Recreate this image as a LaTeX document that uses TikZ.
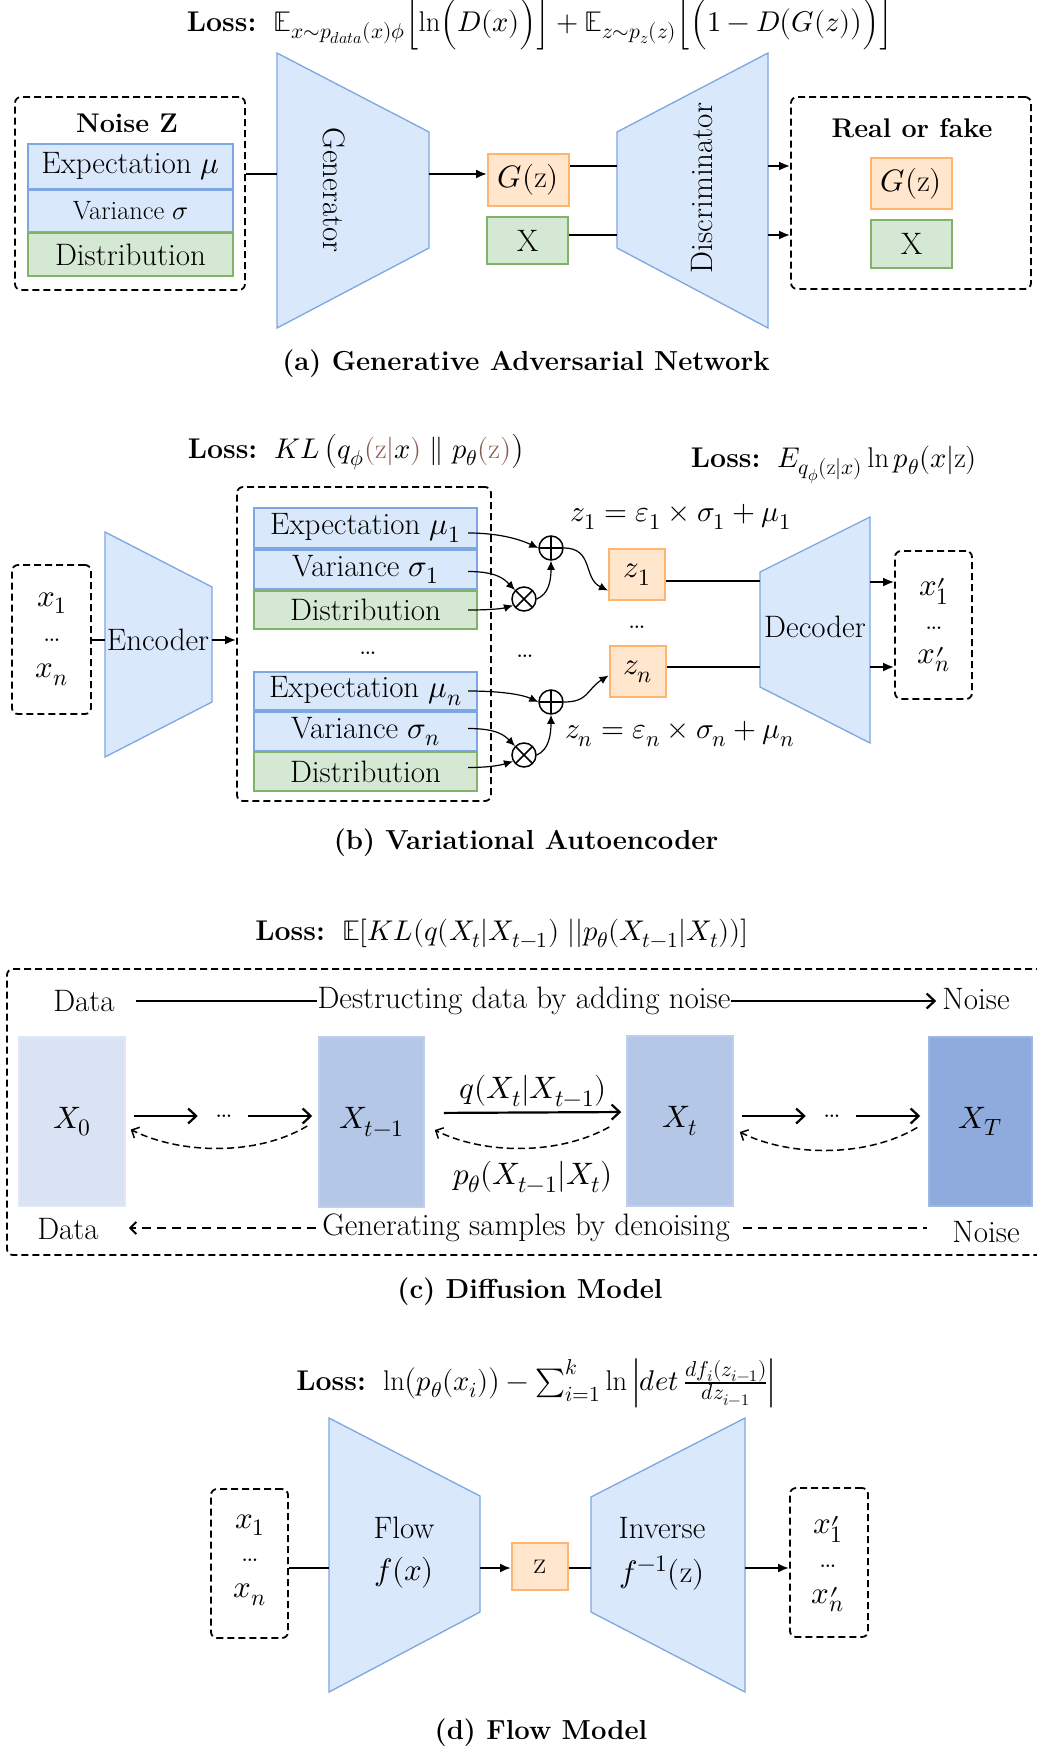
\documentclass[tikz,border=0pt]{standalone}
\usepackage{fontspec}
\usepackage{unicode-math}
\setmathfont{Latin Modern Math}
\usetikzlibrary{arrows.meta,calc}
\DeclareMathSizes{31}{31}{23.5}{17}
\DeclareMathSizes{29.5}{29.5}{22.5}{16.5}
\DeclareMathSizes{28.5}{28.5}{21.5}{16}
\DeclareMathSizes{27}{27}{20.5}{15}
% prime set close to the letter, stacked over the index
\newcommand{\pmark}{\smash{\raisebox{-1.3ex}{$\prime$}}}

\definecolor{bfill}{HTML}{DAE8FC}
\definecolor{bstroke}{HTML}{7EA6E0}
\definecolor{gfill}{HTML}{D5E8D4}
\definecolor{gstroke}{HTML}{82B366}
\definecolor{ofill}{HTML}{FFE6CC}
\definecolor{ostroke}{HTML}{FFB570}
\definecolor{dA}{HTML}{DAE3F3}
\definecolor{dB}{HTML}{B4C7E7}
\definecolor{dC}{HTML}{8FAADC}
\definecolor{brn}{HTML}{8B5A4F}

\tikzset{
  grp/.style={draw, line width=1.8pt, dash pattern=on 7pt off 4pt, rounded corners=6pt},
  bbox/.style={draw=bstroke, fill=bfill, line width=2pt},
  gbox/.style={draw=gstroke, fill=gfill, line width=2pt},
  obox/.style={draw=ostroke, fill=ofill, line width=2pt},
  trap/.style={draw=bstroke, fill=bfill, line width=1.3pt},
  drect/.style={fill=#1, draw=#1!85!white, line width=1.5pt},
  losstxt/.style={font=\fontsize{28.5}{34}\selectfont},
  captxt/.style={font=\bfseries\fontsize{27.5}{33}\selectfont},
  headtxt/.style={font=\bfseries\fontsize{27}{32}\selectfont},
  formtxt/.style={font=\fontsize{29.5}{35}\selectfont},
  conn/.style={line width=2pt},
  arr/.style={conn, -{Latex[length=11pt,width=9pt]}},
  tarr/.style={line width=1.2pt, -{Latex[length=9pt,width=8pt]}},
  barb/.style={line width=2.2pt, -{Straight Barb[length=8pt,width=15pt]}},
  dbarb/.style={line width=1.5pt, dash pattern=on 7pt off 4pt, -{Straight Barb[length=6pt,width=12pt]}},
  dline/.style={line width=2pt, dash pattern=on 9pt off 6pt},
  plusc/.style={circle, draw, line width=1.5pt, minimum size=24pt,
    path picture={\draw[line width=1.5pt]
      (path picture bounding box.north) -- (path picture bounding box.south)
      (path picture bounding box.west) -- (path picture bounding box.east);}},
  timesc/.style={circle, draw, line width=1.5pt, minimum size=24pt,
    path picture={\draw[line width=1.5pt]
      (path picture bounding box.north west) -- (path picture bounding box.south east)
      (path picture bounding box.south west) -- (path picture bounding box.north east);}},
}

\begin{document}
\begin{tikzpicture}[x=1pt, y=-1pt, font=\fontsize{31}{37}\selectfont, every node/.style={inner sep=0pt}]
\fill[white] (0,0) rectangle (1036,1747);
\useasboundingbox (0,0) rectangle (1036,1747);

% ---------------- (a) GAN ----------------
\node[losstxt] (lossA) at (540,24) {\textbf{Loss:}\ \ $\mathbb{E}_{x\sim p_{data}(x)\phi}\Bigl[\ln\Bigl(D(x)\Bigr)\Bigr]+\mathbb{E}_{z\sim p_z(z)}\Bigl[\Bigl(1-D\bigl(G(z)\bigr)\Bigr)\Bigr]$};

\node[grp, minimum width=230, minimum height=193] (noise) at (130,193.5) {};
\node[headtxt] (noiseT) at (127,123) {Noise Z};
\node[bbox, minimum width=205, minimum height=45] (expA) at (130.5,166.5) {Expectation $\mu$};
\node[bbox, minimum width=205, minimum height=42, font=\fontsize{26.5}{32}\selectfont] (varA) at (130.5,211) {Variance $\sigma$};
\node[gbox, minimum width=205, minimum height=43] (distA) at (130.5,254.5) {Distribution};

\draw[trap] (277,53) -- (429,132) -- (429,248) -- (277,328) -- cycle;
\node[rotate=-90] (genT) at (334,190) {Generator};
\coordinate (genIn) at (277,174);
\coordinate (genOut) at (429,174);
\draw[conn] (noise.east |- genIn) -- (genIn);

\node[obox, minimum width=81, minimum height=52] (gz) at (528.5,180) {$G(\mathrm{z})$};
\node[gbox, minimum width=81, minimum height=47] (xA) at (527.5,240.5) {X};
\draw[arr] (genOut) -- (gz.west |- genOut);

\draw[trap] (617,132) -- (768,53) -- (768,328) -- (617,248) -- cycle;
\node[rotate=90] (discT) at (702,188) {Discriminator};
\coordinate (discIn1) at (617,166);
\coordinate (discIn2) at (617,235);
\coordinate (discOut1) at (768,166);
\coordinate (discOut2) at (768,235);
\draw[conn] (gz.east |- discIn1) -- (discIn1);
\draw[conn] (xA.east |- discIn2) -- (discIn2);

\node[grp, minimum width=240, minimum height=192] (real) at (911,193) {};
\draw[arr] (discOut1) -- (real.west |- discOut1);
\draw[arr] (discOut2) -- (real.west |- discOut2);
\node[headtxt] (realT) at (912,128) {Real or fake};
\node[obox, minimum width=81, minimum height=51] (gz2) at (911.5,183.5) {$G(\mathrm{z})$};
\node[gbox, minimum width=81, minimum height=48] (x2) at (911.5,244) {X};

\node[captxt] (capA) at (526,364) {(a) Generative Adversarial Network};

% ---------------- (b) VAE ----------------
\node[losstxt] (lossB1) at (356,452) {\textbf{Loss:}\ \ $KL\left(q_\phi\textcolor{brn}{(\mathrm{z}|}x\textcolor{brn}{)}\parallel p_\theta\textcolor{brn}{(\mathrm{z})}\right)$};
\node[losstxt] (lossB2) at (834,465) {\textbf{Loss:}\ \ $E_{q_\phi(\mathrm{z}|x)}\ln p_\theta(x|\mathrm{z})$};

\node[grp, minimum width=79, minimum height=149] (inB) at (51.5,639.5) {};
\node (x1B) at (52,603) {$x_1$};
\node (dotsB) at (52,640) {\dots};
\node (xnB) at (52,675) {$x_n$};

\draw[trap] (105,532) -- (212,587) -- (212,702) -- (105,757) -- cycle;
\coordinate (encIn) at (105,640);
\coordinate (encOut) at (212,640);
\node[grp, minimum width=254, minimum height=314] (mid) at (364,644) {};
\draw[conn] (inB.east |- encIn) -- (encIn);
\draw[arr] (encOut) -- (mid.west |- encOut);
\node (encT) at (158,640) {Encoder};

\node[bbox, minimum width=223, minimum height=40] (e1) at (365.5,528) {Expectation $\mu_1$};
\node[bbox, minimum width=223, minimum height=39] (v1) at (365.5,569.5) {Variance $\sigma_1$};
\node[gbox, minimum width=223, minimum height=38] (d1) at (365.5,610) {Distribution};
\node (dotsM) at (368,653) {\dots};
\node[bbox, minimum width=223, minimum height=38] (en) at (365.5,691) {Expectation $\mu_n$};
\node[bbox, minimum width=223, minimum height=39] (vn) at (365.5,731.5) {Variance $\sigma_n$};
\node[gbox, minimum width=223, minimum height=39] (dn) at (365.5,771.5) {Distribution};

\node[plusc] (p1) at (551,548) {};
\node[timesc] (m1) at (524,599) {};
\node[plusc] (pn) at (551,702) {};
\node[timesc] (mn) at (524,755) {};

\node[obox, minimum width=56, minimum height=51] (z1) at (637,574.5) {$z_1$};
\node[obox, minimum width=56, minimum height=51] (zn) at (637.5,671.5) {$z_n$};
\node (dotsZ) at (637,627) {\dots};
\node (dotsC) at (525,656) {\dots};
\node[formtxt] (f1) at (681,517) {$z_1=\varepsilon_1\times\sigma_1+\mu_1$};
\node[formtxt] (fn) at (680,734) {$z_n=\varepsilon_n\times\sigma_n+\mu_n$};

\draw[tarr] ($(e1.east)+(-10,5)$) .. controls +(35,0) and +(-15,-7) .. (p1.west);
\draw[tarr] ($(v1.east)+(-10,2)$) .. controls +(30,0) and +(-10,-10) .. (m1.north west);
\draw[tarr] ($(d1.east)+(-10,0)$) .. controls +(25,0) and +(-10,3) .. (m1.210);
\draw[tarr] (m1.east) .. controls +(12,-5) and +(0,20) .. (p1.south);
\draw[tarr] (p1.east) .. controls +(30,0) and +(-25,-12) .. ($(z1.west)+(0,16)$);

\draw[tarr] ($(en.east)+(-10,0)$) .. controls +(35,0) and +(-15,-7) .. (pn.west);
\draw[tarr] ($(vn.east)+(-10,-3)$) .. controls +(30,0) and +(-10,-10) .. (mn.north west);
\draw[tarr] ($(dn.east)+(-10,-4)$) .. controls +(25,0) and +(-10,3) .. (mn.210);
\draw[tarr] (mn.east) .. controls +(12,-5) and +(0,20) .. (pn.south);
\draw[tarr] (pn.east) .. controls +(25,0) and +(-22,14) .. ($(zn.west)+(0,4)$);

\draw[trap] (760,572) -- (870,517) -- (870,743) -- (760,687) -- cycle;
\node (decT) at (815,627) {Decoder};
\coordinate (decIn1) at (760,581);
\coordinate (decIn2) at (760,667);
\coordinate (decOut1) at (870,582);
\coordinate (decOut2) at (870,667);
\draw[conn] (z1.east |- decIn1) -- (decIn1);
\draw[conn] (zn.east |- decIn2) -- (decIn2);

\node[grp, minimum width=77, minimum height=148] (outB) at (933.5,625) {};
\draw[arr] (decOut1) -- (outB.west |- decOut1);
\draw[arr] (decOut2) -- (outB.west |- decOut2);
\node (y1B) at (934,593) {$x^{\pmark}_1$};
\node (dotsO) at (934,628) {\dots};
\node (ynB) at (934,661) {$x^{\pmark}_n$};

\node[captxt] (capB) at (526,843) {(b) Variational Autoencoder};

% ---------------- (c) Diffusion ----------------
\node[losstxt] (lossC) at (502,933) {\textbf{Loss:}\ \ $\mathbb{E}[KL(q(X_t|X_{t-1})\;||p_\theta(X_{t-1}|X_t))]$};
\node[grp, minimum width=1053, minimum height=286] (diffBox) at (533.5,1112) {};

\node (dataT) at (84,1001) {Data};
\node (noiseT2) at (976,999) {Noise};
\node (destr) at (524,1001) {Destructing data by adding noise};
\draw[conn, shorten <=21pt] (dataT.east) -- (destr.west);
\draw[barb, shorten >=6pt] (destr.east) -- (noiseT2.west |- destr.east);

\node[drect=dA, minimum width=106, minimum height=169] (x0) at (72,1121.5) {$X_0$};
\node[drect=dB, minimum width=105, minimum height=170] (xtm) at (371.5,1122) {$X_{t-1}$};
\node[drect=dB, minimum width=106, minimum height=170] (xt) at (680,1121) {$X_t$};
\node[drect=dC, minimum width=103, minimum height=169] (xT) at (980.5,1121.5) {$X_T$};

\node (dots1) at (224,1116) {\dots};
\node (dots2) at (832,1116) {\dots};
\draw[barb, shorten <=8pt, shorten >=17pt] (x0.east |- dots1) -- (dots1.west);
\draw[barb, shorten <=15pt, shorten >=6pt] (dots1.east) -- (xtm.west |- dots1);
\draw[barb, shorten <=19pt, shorten >=5pt] ([yshift=9pt]xtm.east) -- ([yshift=9pt]xt.west);
\draw[barb, shorten <=8pt, shorten >=17pt] (xt.east |- dots2) -- (dots2.west);
\draw[barb, shorten <=15pt, shorten >=8pt] (dots2.east) -- (xT.west |- dots2);

\node (qlab) at (533,1091) {$q(X_t|X_{t-1})$};
\node (plab) at (533,1177) {$p_\theta(X_{t-1}|X_t)$};

\draw[dbarb] ([xshift=-11pt,yshift=-4pt]xtm.west) .. controls +(-50,30) and +(50,25) .. ([xshift=5pt,yshift=-8pt]x0.east);
\draw[dbarb] ([xshift=-17pt,yshift=-6pt]xt.west) .. controls +(-50,28) and +(50,25) .. ([xshift=10pt,yshift=-8pt]xtm.east);
\draw[dbarb] ([xshift=-11pt,yshift=-6pt]xT.west) .. controls +(-50,30) and +(50,25) .. ([xshift=6pt,yshift=-11pt]xt.east);

\node (dataB) at (68,1229) {Data};
\node (genS) at (526,1228) {Generating samples by denoising};
\node (noiseB) at (986,1232) {Noise};
\draw[dbarb, line width=2pt, dash pattern=on 9pt off 6pt, shorten <=6pt, shorten >=30pt] (genS.west) -- (dataB.east |- genS.west);
\draw[dline, shorten <=13pt, shorten >=25pt] (genS.east) -- (noiseB.west |- genS.east);

\node[captxt] (capC) at (530,1292) {(c) Diffusion Model};

% ---------------- (d) Flow ----------------
\node[losstxt] (lossD) at (536,1383) {\textbf{Loss:}\ \ $\ln\bigl(p_\theta(x_i)\bigr)-\sum_{i=1}^{k}\ln\left|det\,\frac{df_i(z_{i-1})}{dz_{i-1}}\right|$};

\node[grp, minimum width=77, minimum height=149] (inD) at (249.5,1563.5) {};
\node (x1D) at (250,1525) {$x_1$};
\node (dotsD) at (250,1560) {\dots};
\node (xnD) at (250,1595) {$x_n$};

\draw[trap] (329,1418) -- (480,1496) -- (480,1612) -- (329,1692) -- cycle;
\node (flowT) at (404,1528) {Flow};
\node (flowF) at (404,1573) {$f(x)$};
\coordinate (flowIn) at (329,1568);
\coordinate (flowOut) at (480,1568);
\draw[conn] (inD.east |- flowIn) -- (flowIn);

\node[obox, minimum width=56, minimum height=47] (zD) at (540,1566.5) {$\mathrm{z}$};
\draw[arr] (flowOut) -- (zD.west |- flowOut);

\draw[trap] (591,1497) -- (745,1418) -- (745,1692) -- (591,1612) -- cycle;
\node (invT) at (662,1528) {Inverse};
\node (invF) at (662,1573) {$f^{-1}(\mathrm{z})$};
\coordinate (invIn) at (591,1568);
\coordinate (invOut) at (745,1568);
\draw[conn] (zD.east |- invIn) -- (invIn);

\node[grp, minimum width=78, minimum height=149] (outD) at (829,1562.5) {};
\draw[arr] (invOut) -- (outD.west |- invOut);
\node (y1D) at (828,1531) {$x^{\pmark}_1$};
\node (dotsE) at (828,1566) {\dots};
\node (ynD) at (828,1601) {$x^{\pmark}_n$};

\node[captxt] (capD) at (541,1733) {(d) Flow Model};
\end{tikzpicture}
\end{document}
